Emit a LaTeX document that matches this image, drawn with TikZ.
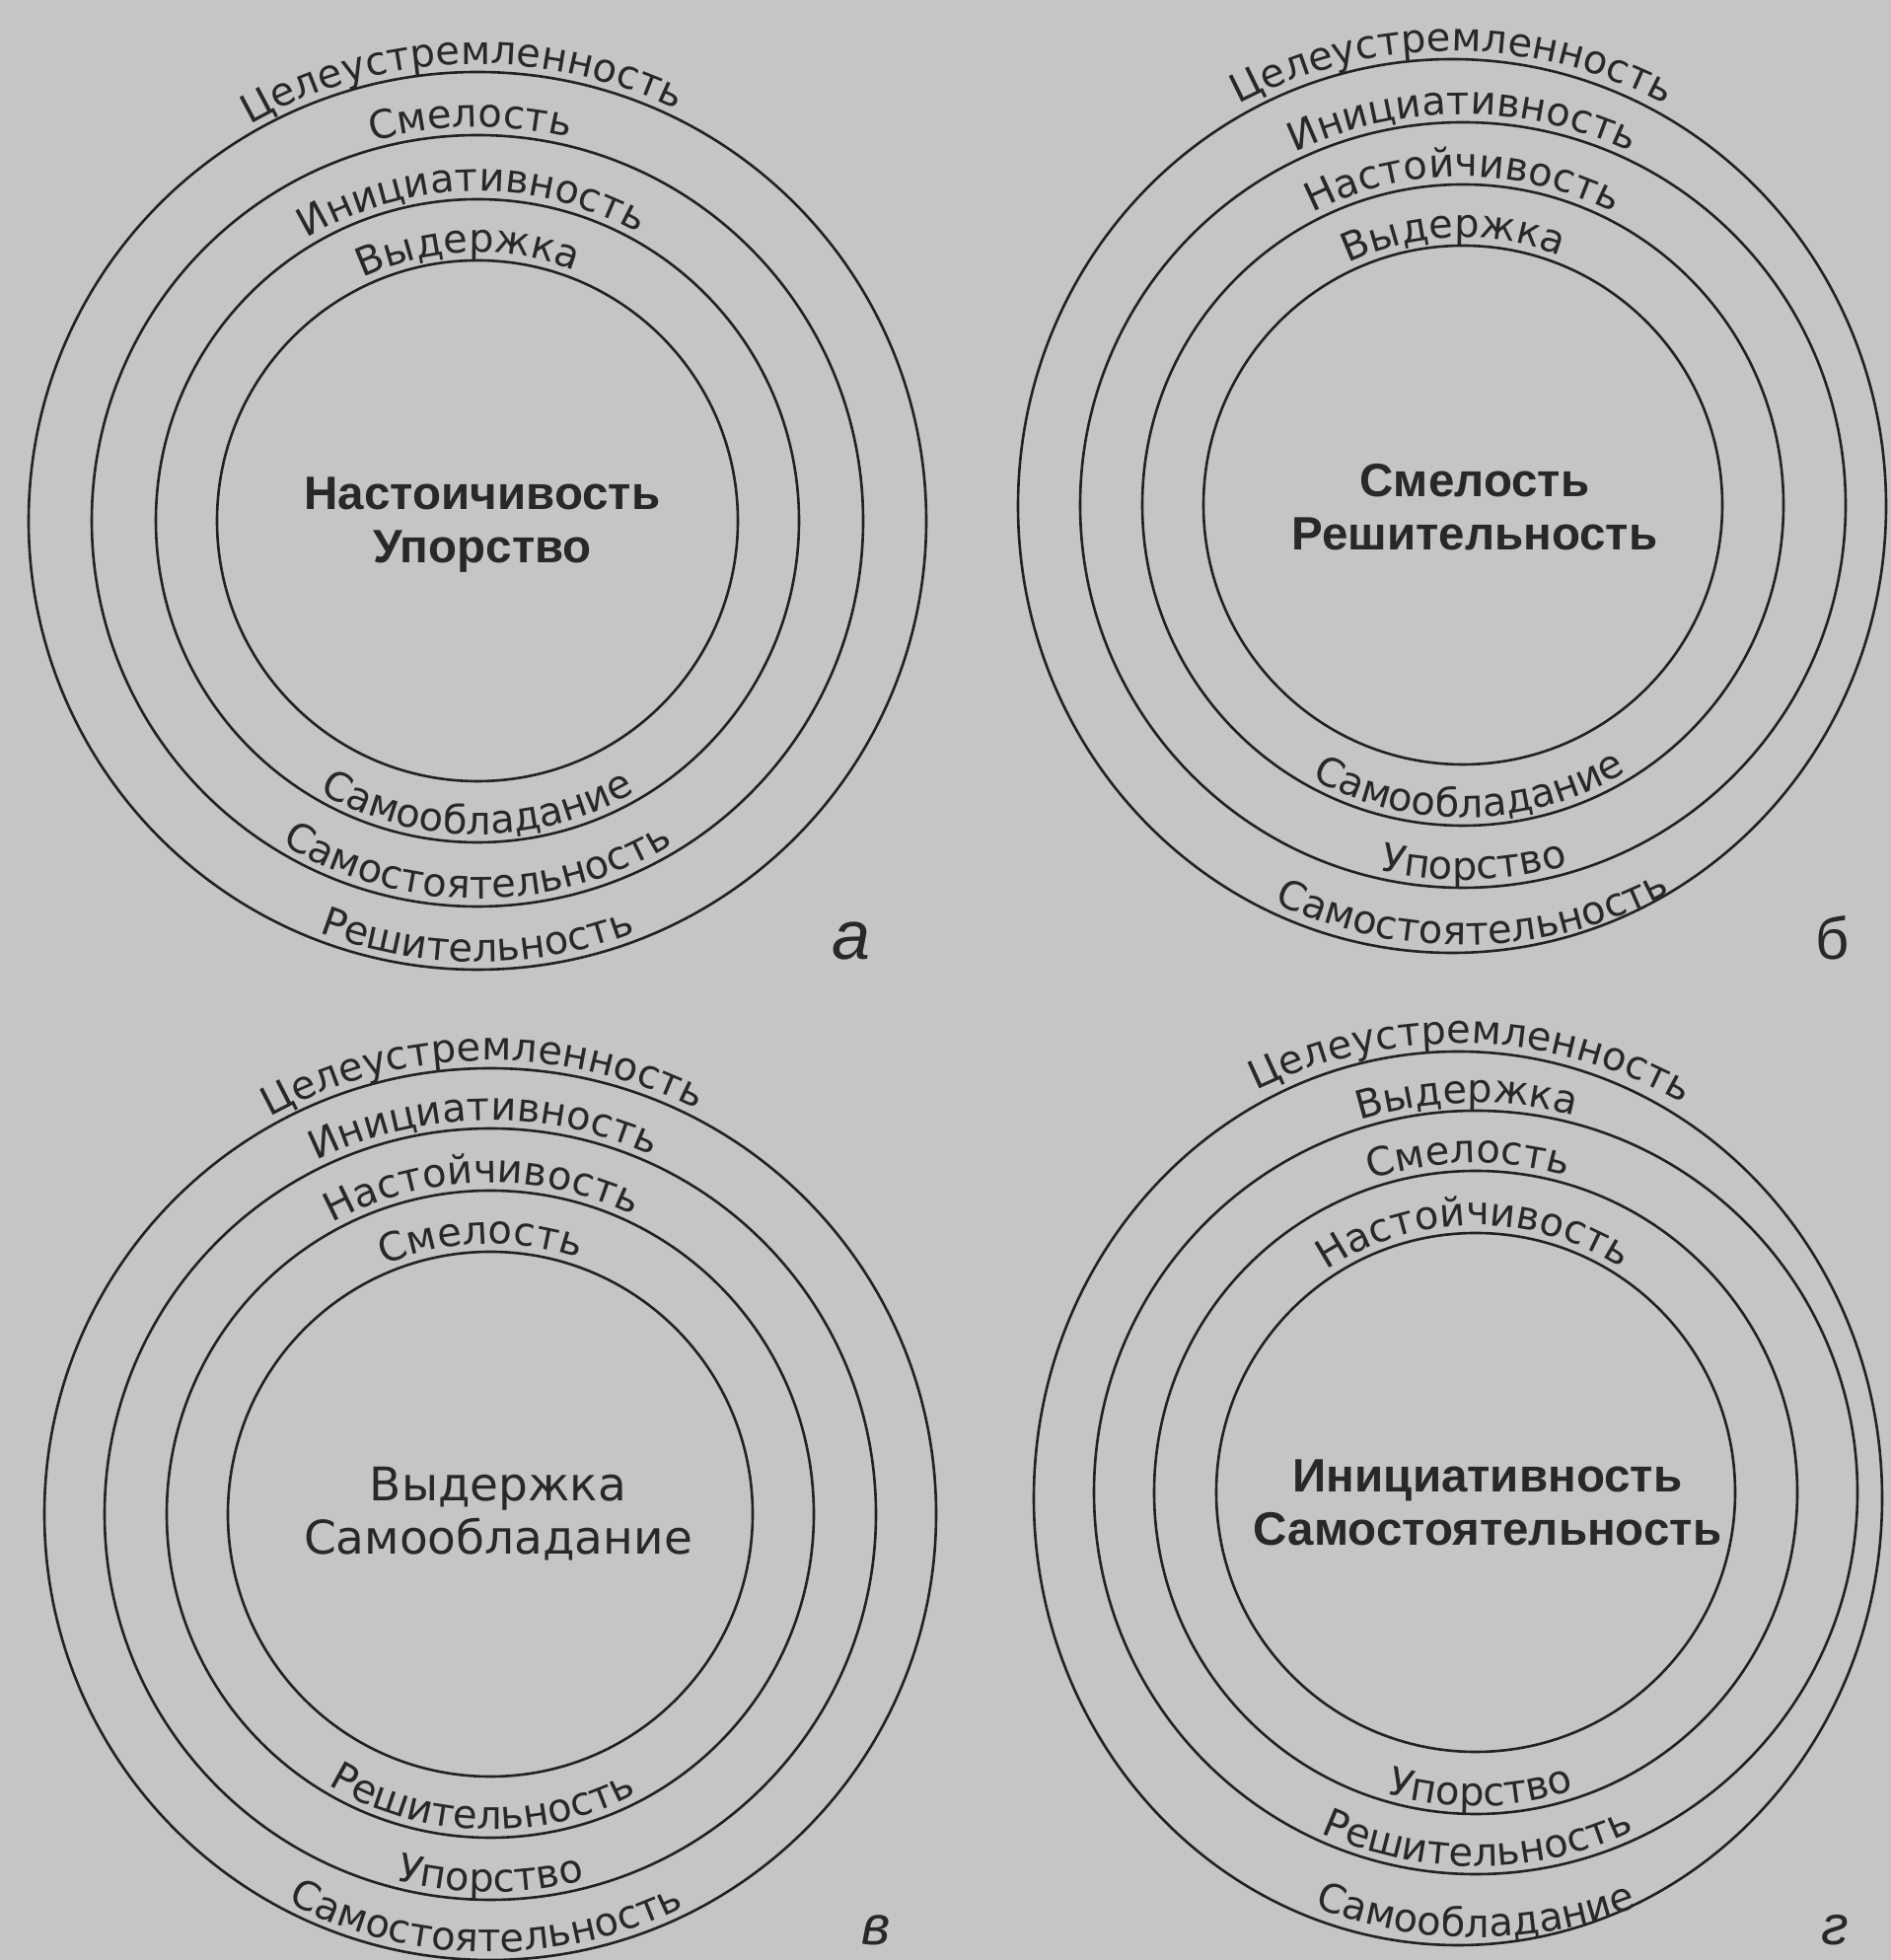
\documentclass[tikz,border=0pt]{standalone}
\usepackage{fontspec}
\setmainfont{DejaVu Sans}
\newfontfamily\lsans{Liberation Sans}
\usetikzlibrary{decorations.text}
\definecolor{bg}{RGB}{197,197,197}
\definecolor{ink}{RGB}{34,34,34}
\definecolor{txt}{RGB}{40,40,40}
\newcommand\arcfont{\fontsize{40}{46}\selectfont\color{txt}}
\newcommand\TopText[4]{%
  \pgfmathsetmacro\mysa{180+#3}%
  \pgfmathsetmacro\myea{#3}%
  \path[decorate,decoration={text along path,text align=center,text={|\arcfont|#4}}]
    (#1) ++(\mysa:#2) arc[start angle=\mysa,end angle=\myea,radius=#2];}
\newcommand\BotText[4]{%
  \pgfmathsetmacro\mysa{180+#3}%
  \pgfmathsetmacro\myea{360+#3}%
  \path[decorate,decoration={text along path,text align=center,text={|\arcfont|#4}}]
    (#1) ++(\mysa:#2) arc[start angle=\mysa,end angle=\myea,radius=#2];}
\begin{document}
\begin{tikzpicture}[x=1pt,y=1pt,
  ring/.style={draw=ink,line width=2.6pt},
  ctrb/.style={text=txt,align=center,font=\lsans\bfseries\fontsize{47.5}{54}\selectfont},
  ctrr/.style={text=txt,align=center,font=\fontsize{47}{54}\selectfont},
  lbla/.style={text=txt,anchor=base,font=\lsans\itshape\fontsize{70}{80}\selectfont},
  lblb/.style={text=txt,anchor=base,font=\lsans\fontsize{60}{70}\selectfont},
  lblv/.style={text=txt,anchor=base,font=\lsans\itshape\fontsize{56}{64}\selectfont}]
\useasboundingbox (0,0) rectangle (1917,1987);
\fill[bg] (0,0) rectangle (1917,1987);
\clip (0,0) rectangle (1917,1987);
% centres
\coordinate (ca) at (484,1459);
\coordinate (cb) at (1483,1475);
\coordinate (cbo) at (1472,1474);
\coordinate (cv) at (497,452);
\coordinate (cg) at (1496,474);
\coordinate (cgo) at (1478,468);
% circles
\foreach \r in {264,326,391,455} \draw[ring] (ca) circle[radius=\r];
\foreach \r in {263,325,388} \draw[ring] (cb) circle[radius=\r];
\draw[ring] (cbo) ellipse[x radius=440,y radius=453];
\foreach \r in {266,328,391,452} \draw[ring] (cv) circle[radius=\r];
\foreach \r in {263,326,387} \draw[ring] (cg) circle[radius=\r];
\draw[ring] (cgo) ellipse[x radius=430,y radius=453];
% centre texts
\node[ctrb] (ta) at (489,1455) {Настоичивость\\Упорство};
\node[ctrb] (tb) at (1495,1473) {Смелость\\Решительность};
\node[ctrr] (tv) at (505,452) {Выдержка\\Самообладание};
\node[ctrb] (tg) at (1508,464) {Инициативность\\Самостоятельность};
% diagram a
\TopText{ca}{463}{2}{Целеустремленность}
\TopText{ca}{399}{1}{Смелость}
\TopText{ca}{334}{1}{Инициативность}
\TopText{ca}{272}{2}{Выдержка}
\BotText{ca}{318}{0}{Самообладание}
\BotText{ca}{383}{0}{Самостоятельность}
\BotText{ca}{447}{0}{Решительность}
% diagram b
\TopText{cbo}{461}{0}{Целеустремленность}
\TopText{cb}{396}{0}{Инициативность}
\TopText{cb}{333}{0}{Настойчивость}
\TopText{cb}{271}{2}{Выдержка}
\BotText{cb}{317}{1.3}{Самообладание}
\BotText{cb}{380}{1.7}{Упорство}
\BotText{cb}{446}{1.4}{Самостоятельность}
% diagram v
\TopText{cv}{460}{1}{Целеустремленность}
\TopText{cv}{399}{1}{Инициативность}
\TopText{cv}{336}{1.5}{Настойчивость}
\TopText{cv}{274}{2}{Смелость}
\BotText{cv}{320}{-1.6}{Решительность}
\BotText{cv}{383}{0}{Упорство}
\BotText{cv}{444}{-0.6}{Самостоятельность}
% diagram g
\TopText{cgo}{461}{-1.7}{Целеустремленность}
\TopText{cg}{395}{1.3}{Выдержка}
\TopText{cg}{334}{1.2}{Смелость}
\TopText{cg}{271}{0.4}{Настойчивость}
\BotText{cg}{318}{0.9}{Упорство}
\BotText{cg}{379}{0.3}{Решительность}
\BotText{cg}{451}{0}{Самообладание}
% labels
\node[lbla] (la) at (863,1014) {а};
\node[lblb] (lb) at (1858,1014) {б};
\node[lblv] (lv) at (888,16) {в};
\node[lblv] (lg) at (1860,16) {г};
\end{tikzpicture}
\end{document}
